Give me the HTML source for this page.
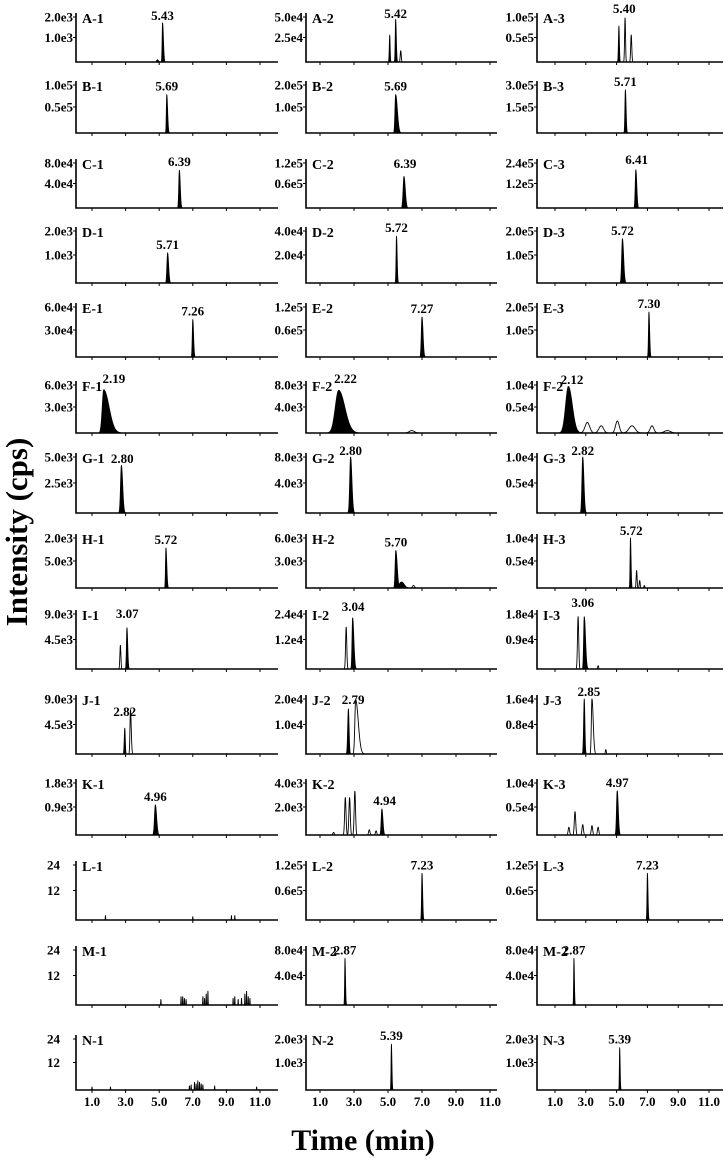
<!DOCTYPE html>
<html><head><meta charset="utf-8">
<style>
html,body{margin:0;padding:0;background:#fff;}
svg{display:block;font-family:"Liberation Serif",serif;font-weight:bold;}
</style></head>
<body>
<svg id="fig" width="725" height="1160" viewBox="0 0 725 1160" xmlns="http://www.w3.org/2000/svg">
<text x="0" y="0" transform="translate(27,532) rotate(-90)" text-anchor="middle" font-size="31">Intensity (cps)</text>
<text x="363" y="1150" text-anchor="middle" font-size="30">Time (min)</text>
</svg>
<script>
const rowBaselines=[62,133,208,283,357,433,513,588,669,754,835,920,1005,1090];
const rowTops=[45,48,45,52,50,48,56,50,55,55,52,55,55,51];
const xTickValues=[1,3,5,7,9,11];
const xTickLabels=["1.0","3.0","5.0","7.0","9.0","11.0"];
const panelNames=[
["A-1","B-1","C-1","D-1","E-1","F-1","G-1","H-1","I-1","J-1","K-1","L-1","M-1","N-1"],
["A-2","B-2","C-2","D-2","E-2","F-2","G-2","H-2","I-2","J-2","K-2","L-2","M-2","N-2"],
["A-3","B-3","C-3","D-3","E-3","F-2","G-3","H-3","I-3","J-3","K-3","L-3","M-2","N-3"]];
const yTopLabels=[
["2.0e3","1.0e5","8.0e4","2.0e3","6.0e4","6.0e3","5.0e3","2.0e3","9.0e3","9.0e3","1.8e3","24","24","24"],
["5.0e4","2.0e5","1.2e5","4.0e4","1.2e5","8.0e3","8.0e3","6.0e3","2.4e4","2.0e4","4.0e3","1.2e5","8.0e4","2.0e3"],
["1.0e5","3.0e5","2.4e5","2.0e5","2.0e5","1.0e4","1.0e4","1.0e4","1.8e4","1.6e4","1.0e4","1.2e5","8.0e4","2.0e3"]];
const yMidLabels=[
["1.0e3","0.5e5","4.0e4","1.0e3","3.0e4","3.0e3","2.5e3","5.0e3","4.5e3","4.5e3","0.9e3","12","12","12"],
["2.5e4","1.0e5","0.6e5","2.0e4","0.6e5","4.0e3","4.0e3","3.0e3","1.2e4","1.0e4","2.0e3","0.6e5","4.0e4","1.0e3"],
["0.5e5","1.5e5","1.2e5","1.0e5","1.0e5","0.5e4","0.5e4","0.5e4","0.9e4","0.8e4","0.5e4","0.6e5","4.0e4","1.0e3"]];
const peakLabels=[
["5.43","5.69","6.39","5.71","7.26","2.19","2.80","5.72","3.07","2.82","4.96","","",""],
["5.42","5.69","6.39","5.72","7.27","2.22","2.80","5.70","3.04","2.79","4.94","7.23","2.87","5.39"],
["5.40","5.71","6.41","5.72","7.30","2.12","2.82","5.72","3.06","2.85","4.97","7.23","2.87","5.39"]];
// label position overrides: [col,row,time,yOffsetFromBaseline]
const labelPlacement=[[0,5,2.3,-50],[1,5,2.5,-50],[2,5,2.1,-49],[0,6,2.8,-50],[1,6,2.8,-58],[2,6,2.8,-58],[0,8,3.1,-51],[0,9,2.95,-38],[1,9,2.95,-50],[2,9,3.2,-58],[1,10,4.8,-30],[0,0,5.2,-42],[1,0,5.45,-44],[2,0,5.5,-49],[2,7,5.95,-53],[1,8,2.95,-58],[2,8,2.8,-62],[1,2,6.0,-40],[2,2,6.3,-44]];
// peaks per panel: times, heights (fraction of top tick), widths (sigma, min), tail factors, filled flags
const peakTimes=[
[[5.2,4.9],[5.45],[6.2],[5.5],[7.0],[1.7],[2.75],[5.4],[2.69,3.08],[2.95,3.29],[4.77],[1.8,7.0,9.3,9.5],[5.1,6.3,6.4,6.5,6.6,7.6,7.7,7.8,7.9,9.4,9.5,9.7,9.9,10.1,10.2,10.3,10.4],[1.0,2.1,6.8,6.9,7.1,7.2,7.3,7.4,7.5,7.6,8.3,10.8]],
[[5.1,5.45,5.75],[5.45],[5.94],[5.5],[7.0],[2.1,6.4],[2.8],[5.46,5.8,6.5],[2.54,2.92],[2.67,3.1],[1.8,2.49,2.74,3.05,3.9,4.3,4.64],[7.0],[2.47],[5.2]],
[[5.15,5.55,5.95],[5.57],[6.25],[5.38],[7.1],[1.87,3.1,4.0,5.05,6.0,7.3,8.3],[2.8],[5.9,6.3,6.5,6.8],[2.5,2.9,3.8],[2.9,3.4,4.3],[1.9,2.3,2.8,3.4,3.8,5.04],[7.0],[2.23],[5.2]]];
const peakHeights=[
[[.87,.05],[.8],[.84],[.58],[.75],[.9],[.85],[.8],[.43,.75],[.47,.8],[.58],[.08,.06,.08,.08],[.1,.15,.15,.12,.1,.15,.12,.2,.25,.12,.15,.1,.12,.2,.25,.15,.12],[.06,.06,.08,.1,.15,.12,.18,.15,.12,.1,.08,.06]],
[[.6,.95,.25],[.8],[.7],[.9],[.8],[.89,.05],[1.0],[.75,.12,.05],[.76,.93],[.82,.98],[.05,.72,.72,.84,.1,.08,.5],[.85],[.85],[.9]],
[[.8,.98,.6],[.9],[.85],[.85],[.9],[.97,.22,.15,.25,.15,.15,.05],[1.0],[1.0,.35,.15,.05],[.95,.95,.06],[1.0,1.0,.08],[.15,.45,.2,.18,.15,.85],[.85],[.85],[.83]]];
const peakWidths=[
[[.025,.05],[.025],[.035],[.04],[.03],[.09],[.05],[.025],[.03,.03],[.03,.03],[.05],[.01,.01,.01,.01],[.01,.01,.01,.01,.01,.01,.01,.01,.01,.01,.01,.01,.01,.01,.01,.01,.01],[.01,.01,.01,.01,.01,.01,.01,.01,.01,.01,.01,.01]],
[[.025,.025,.03],[.04],[.05],[.025],[.04],[.2,.15],[.05],[.04,.15,.06],[.035,.035],[.04,.05],[.04,.04,.04,.04,.04,.04,.04],[.025],[.02],[.02]],
[[.03,.03,.035],[.03],[.04],[.05],[.03],[.18,.15,.15,.12,.2,.12,.2],[.05],[.025,.03,.03,.03],[.04,.04,.03],[.04,.04,.03],[.045,.045,.045,.045,.045,.045],[.025],[.02],[.02]]];
const peakTails=[
[[2,1],[2],[1.5],[1.5],[1.5],[3.5],[1.5],[2],[1,1.5],[1,1.5],[1.5],[1,1,1,1],[1,1,1,1,1,1,1,1,1,1,1,1,1,1,1,1,1],[1,1,1,1,1,1,1,1,1,1,1,1]],
[[1,1.5,1],[2.5],[1.5],[1.5],[1.5],[1.8,1],[1.5],[2,1,1],[1,2],[1,3],[1,1,1,1,1,1,1.5],[1.5],[1.5],[1.5]],
[[1,1,1],[1.5],[1.5],[1.5],[1.5],[1.4,1,1,1,1,1,1],[1.5],[1.5,1,1,1],[1,2,1],[1,2,1],[1,1,1,1,1,1.5],[1.5],[1.5],[1.5]]];
const peakFilled=[
[[1,1],[1],[1],[1],[1],[1],[1],[1],[0,1],[1,0],[1],[0,0,0,0],[0,0,0,0,0,0,0,0,0,0,0,0,0,0,0,0,0],[0,0,0,0,0,0,0,0,0,0,0,0]],
[[1,1,0],[1],[1],[1],[1],[1,0],[1],[1,1,0],[0,1],[1,0],[0,0,0,0,0,0,1],[1],[1],[1]],
[[1,0,0],[1],[1],[1],[1],[1,0,0,0,0,0,0],[1],[1,0,0,0],[0,1,0],[1,0,0],[0,0,0,0,0,1],[1],[1],[1]]];

const colAxisX=[76,306,537];
const colEndX=[278,497,723];
const colT1X=[92,320,555];
const colScale=[16.8,17.0,15.4];
const NS="http://www.w3.org/2000/svg";
const svg=document.getElementById('fig');
function xPos(c,t){return colT1X[c]+(t-1)*colScale[c];}
function yPos(r,h){return rowBaselines[r]-h*rowTops[r];}
function mk(tag,attrs,parent){const e=document.createElementNS(NS,tag);for(const k in attrs)e.setAttribute(k,attrs[k]);(parent||svg).appendChild(e);return e;}
function peakPath(c,r,t0,h,s,tail,closed){
  const tMin=Math.max(0,t0-4*s),tMax=t0+4*s*tail+ (tail>1?0.3*s*tail:0);
  const x0=xPos(c,tMin);
  let d='M'+x0.toFixed(2)+','+rowBaselines[r];
  const n=Math.max(40,Math.round((tMax-tMin)/0.004));
  for(let i=0;i<=n;i++){
    const t=tMin+(tMax-tMin)*i/n;
    const sg=t<t0?s:s*tail;
    const v=h*Math.exp(-0.5*Math.pow((t-t0)/sg,2));
    d+=' L'+xPos(c,t).toFixed(2)+','+yPos(r,v).toFixed(2);
  }
  d+=' L'+xPos(c,tMax).toFixed(2)+','+rowBaselines[r];
  if(closed)d+=' Z';
  return d;
}
for(let c=0;c<3;c++){
  for(let r=0;r<14;r++){
    const g=mk('g',{});
    
    
    const b=rowBaselines[r],top=rowTops[r],ax=colAxisX[c];
    // peaks
    const ts=peakTimes[c][r];
    for(let i=0;i<ts.length;i++){
      const f=peakFilled[c][r][i];
      const p=mk('path',{d:peakPath(c,r,ts[i],peakHeights[c][r][i],peakWidths[c][r][i],peakTails[c][r][i],!!f),
        fill:f?'#000':'none',stroke:'#000','stroke-width':f?0.8:0.9,'stroke-linejoin':'round'},g);
      
      
    }
    // axes
    const axes=mk('path',{d:'M'+ax+','+(b-top-4)+' L'+ax+','+b+' L'+colEndX[c]+','+b,fill:'none',stroke:'#000','stroke-width':1.6},g);
    
    
    // y ticks
    const mid=top/2+2;
    mk('line',{x1:ax-3,x2:ax,y1:b-top,y2:b-top,stroke:'#000','stroke-width':1},g);
    mk('line',{x1:ax-3,x2:ax,y1:b-mid,y2:b-mid,stroke:'#000','stroke-width':1},g);
    const small=yTopLabels[c][r].length<3;
    const lx=small?ax-16:ax-3;
    const yt=mk('text',{x:lx,y:b-top+4.5,'text-anchor':'end','font-size':13},g);
    yt.textContent=yTopLabels[c][r];
    
    
    const ym=mk('text',{x:lx,y:b-mid+4.5,'text-anchor':'end','font-size':13},g);
    ym.textContent=yMidLabels[c][r];
    
    
    // x ticks
    for(let k=0;k<xTickValues.length;k++){
      const xx=xPos(c,xTickValues[k]);
      mk('line',{x1:xx,x2:xx,y1:b,y2:b+3,stroke:'#000','stroke-width':1},g);
      if(r===13){
        const tl=mk('text',{x:xx,y:b+16,'text-anchor':'middle','font-size':13},g);
        tl.textContent=xTickLabels[k];
        
        
      }
    }
    // panel label
    const pl=mk('text',{x:ax+6,y:b-top+6,'font-size':14},g);
    pl.textContent=panelNames[c][r];
    
    
    // peak label
    if(peakLabels[c][r]){
      let best=0;
      for(let i=0;i<ts.length;i++){if(peakFilled[c][r][i]&&peakHeights[c][r][i]>=peakHeights[c][r][best]*(peakFilled[c][r][best]?1:0))best=i;}
      let lt=ts[best],ly=yPos(r,peakHeights[c][r][best])-4;
      for(const o of labelPlacement){if(o[0]===c&&o[1]===r){lt=o[2];ly=b+o[3];}}
      const pk=mk('text',{x:xPos(c,lt),y:ly,'text-anchor':'middle','font-size':13},g);
      pk.textContent=peakLabels[c][r];
      
      
    }
  }
}
</script>
</body></html>
